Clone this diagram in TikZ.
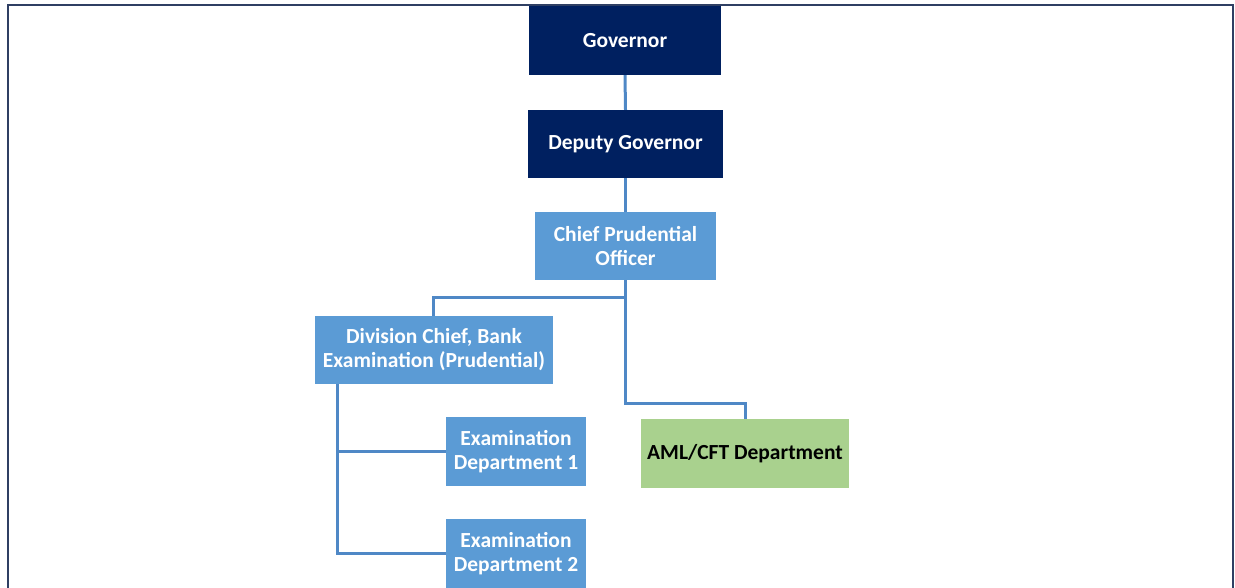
\documentclass[tikz,border=0pt]{standalone}
\usepackage{fontspec}
\setmainfont{Carlito}
\definecolor{navy}{HTML}{002060}
\definecolor{midblue}{HTML}{5B9BD5}
\definecolor{linkblue}{HTML}{4F88C6}
\definecolor{green}{HTML}{A9D18E}
\definecolor{frame}{HTML}{2F3F63}
\begin{document}
\begin{tikzpicture}[x=1pt,y=-1pt,
  box/.style={rectangle, inner sep=0pt, align=center, font=\fontsize{21.5}{24}\selectfont\bfseries},
  dark/.style={box, fill=navy, text=white},
  light/.style={box, fill=midblue, text=white},
  greenbox/.style={box, fill=green, text=black},
  link/.style={draw=linkblue, line width=3pt}]
\useasboundingbox (0,0) rectangle (1235,588);
\draw[frame, line width=1.3pt] (8,600) -- (8,5) -- (1233,5) -- (1233,600);
\node[dark, minimum width=192pt, minimum height=69pt] (gov) at (625,40.5) {Governor};
\node[dark, minimum width=195pt, minimum height=68pt] (dep) at (625.5,144) {Deputy Governor};
\node[light, minimum width=181pt, minimum height=68pt] (cpo) at (625.5,246) {Chief Prudential\\Officer};
\node[light, minimum width=238pt, minimum height=68pt] (div) at (434,350) {Division Chief, Bank\\Examination (Prudential)};
\node[light, minimum width=140pt, minimum height=69pt] (ex1) at (516,451.5) {Examination\\Department 1};
\node[light, minimum width=140pt, minimum height=69pt] (ex2) at (516,553.5) {Examination\\Department 2};
\node[greenbox, minimum width=208pt, minimum height=69pt] (aml) at (745,453.5) {AML/CFT Department};
\coordinate (j) at (625,298);
\draw[link] (gov.south) -- (dep.north);
\draw[link] (dep.south) -- (cpo.north);
\draw[link] (cpo.south -| j) -- (j) -| (div.north -| 433,0);
\draw[link] (j) -- (625,403) -| (aml.north);
\draw[link] (div.south -| 337,0) |- (ex2.west);
\draw[link] (337,0 |- ex1.west) -- (ex1.west);
\end{tikzpicture}
\end{document}
